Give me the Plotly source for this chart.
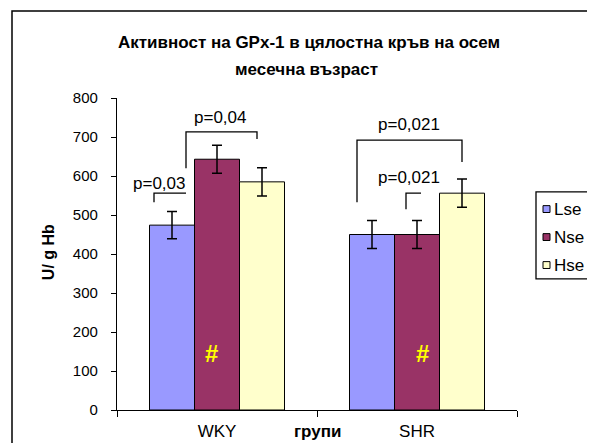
import plotly.graph_objects as go

# data
groups = ["WKY", "SHR"]
series = ["Lse", "Nse", "Hse"]
colors = ["#9999FF", "#993366", "#FFFFCC"]
values = {"Lse": [474, 450], "Nse": [643, 450], "Hse": [585, 556]}
errors = {"Lse": [35, 36], "Nse": [36, 36], "Hse": [36, 36]}

title_lines = ["Активност на GPx-1 в цялостна кръв на осем", "месечна възраст"]

# significance brackets: list of (x, y) points in data units, label position
brackets = [
    ([(-0.315, 533), (-0.315, 556), (-0.155, 556)], "p=0,03", (-0.29, 582)),
    ([(-0.155, 620), (-0.155, 713), (0.2, 713), (0.2, 695)], "p=0,04", (0.015, 751)),
    ([(0.7, 533), (0.7, 692), (1.225, 692), (1.225, 636)], "p=0,021", (0.96, 731)),
    ([(0.945, 515), (0.945, 556), (1.02, 556)], "p=0,021", (0.96, 597)),
]
hash_marks = [(-0.03, 146), (1.025, 146)]

FONT = "Liberation Sans, Arial, sans-serif"


def note(x, y, text, size, ref="paper", **kw):
    return dict(x=x, y=y, xref="x" if ref == "data" else "paper", yref="y" if ref == "data" else "paper",
                text=text, showarrow=False, xanchor=kw.pop("xanchor", "center"), yanchor="middle",
                font=dict(size=size, color=kw.pop("color", "black"), family=FONT), **kw)


fig = go.Figure()
for s, c in zip(series, colors):
    fig.add_trace(go.Bar(
        x=groups, y=values[s], name=s,
        marker=dict(color=c, line=dict(color="black", width=1)),
        error_y=dict(type="data", array=errors[s], color="black", thickness=1.5, width=5),
        showlegend=False))

shapes = []
annotations = []

for pts, label, (tx, ty) in brackets:
    path = "M " + " L ".join(f"{x},{y}" for x, y in pts)
    shapes.append(dict(type="path", path=path, xref="x", yref="y",
                       line=dict(color="black", width=1.3)))
    annotations.append(note(tx, ty, label, 17, ref="data"))

for hx, hy in hash_marks:
    annotations.append(note(hx, hy, "<b>#</b>", 24, ref="data", color="#FFFF00"))

# title lines
annotations.append(note(0.48, 1.179, "<b>" + title_lines[0] + "</b>", 17))
annotations.append(note(0.474, 1.09, "<b>" + title_lines[1] + "</b>", 17))

# axis titles
annotations.append(note(-0.1725, 0.506, "<b>U/ g Hb</b>", 16, textangle=-90))
annotations.append(note(0.5, -0.07, "<b>групи</b>", 17))

# outer frame
shapes.append(dict(type="rect", xref="paper", yref="paper", x0=-0.2625, x1=1.25, y0=-0.2, y1=1.2788,
                   line=dict(color="black", width=1.5), layer="below"))

# legend box
shapes.append(dict(type="rect", xref="paper", yref="paper", x0=1.0475, x1=1.25, y0=0.42, y1=0.699,
                   line=dict(color="black", width=1.3), fillcolor="white"))
for i, (s, c) in enumerate(zip(series, colors)):
    yc = 0.644 - i * 0.0897
    shapes.append(dict(type="rect", xref="paper", yref="paper", x0=1.065, x1=1.0825,
                       y0=yc - 0.011, y1=yc + 0.011, fillcolor=c, line=dict(color="black", width=1)))
    annotations.append(note(1.0875, yc, s, 17, xanchor="left"))

# page body has an 8px margin, so the figure is drawn 8px smaller and shifted
fig.update_layout(
    width=587, height=435,
    margin=dict(l=109, r=78, t=90, b=33),
    paper_bgcolor="white", plot_bgcolor="white",
    barmode="group", bargap=0.325, bargroupgap=0,
    font=dict(family=FONT, size=15, color="black"),
    shapes=shapes, annotations=annotations,
    xaxis=dict(range=[-0.5, 1.5], showline=True, linecolor="black", linewidth=1.3,
               ticks="outside", tickson="boundaries", ticklen=6, tickcolor="black",
               showgrid=False, tickfont=dict(size=17), ticklabelstandoff=5, automargin=False),
    yaxis=dict(range=[0, 800], dtick=100, showline=True, linecolor="black", linewidth=1.3,
               ticks="outside", ticklen=5, tickcolor="black", showgrid=False, zeroline=False,
               tickfont=dict(size=15), ticklabelstandoff=10, automargin=False),
)

fig.write_html("out.html")
